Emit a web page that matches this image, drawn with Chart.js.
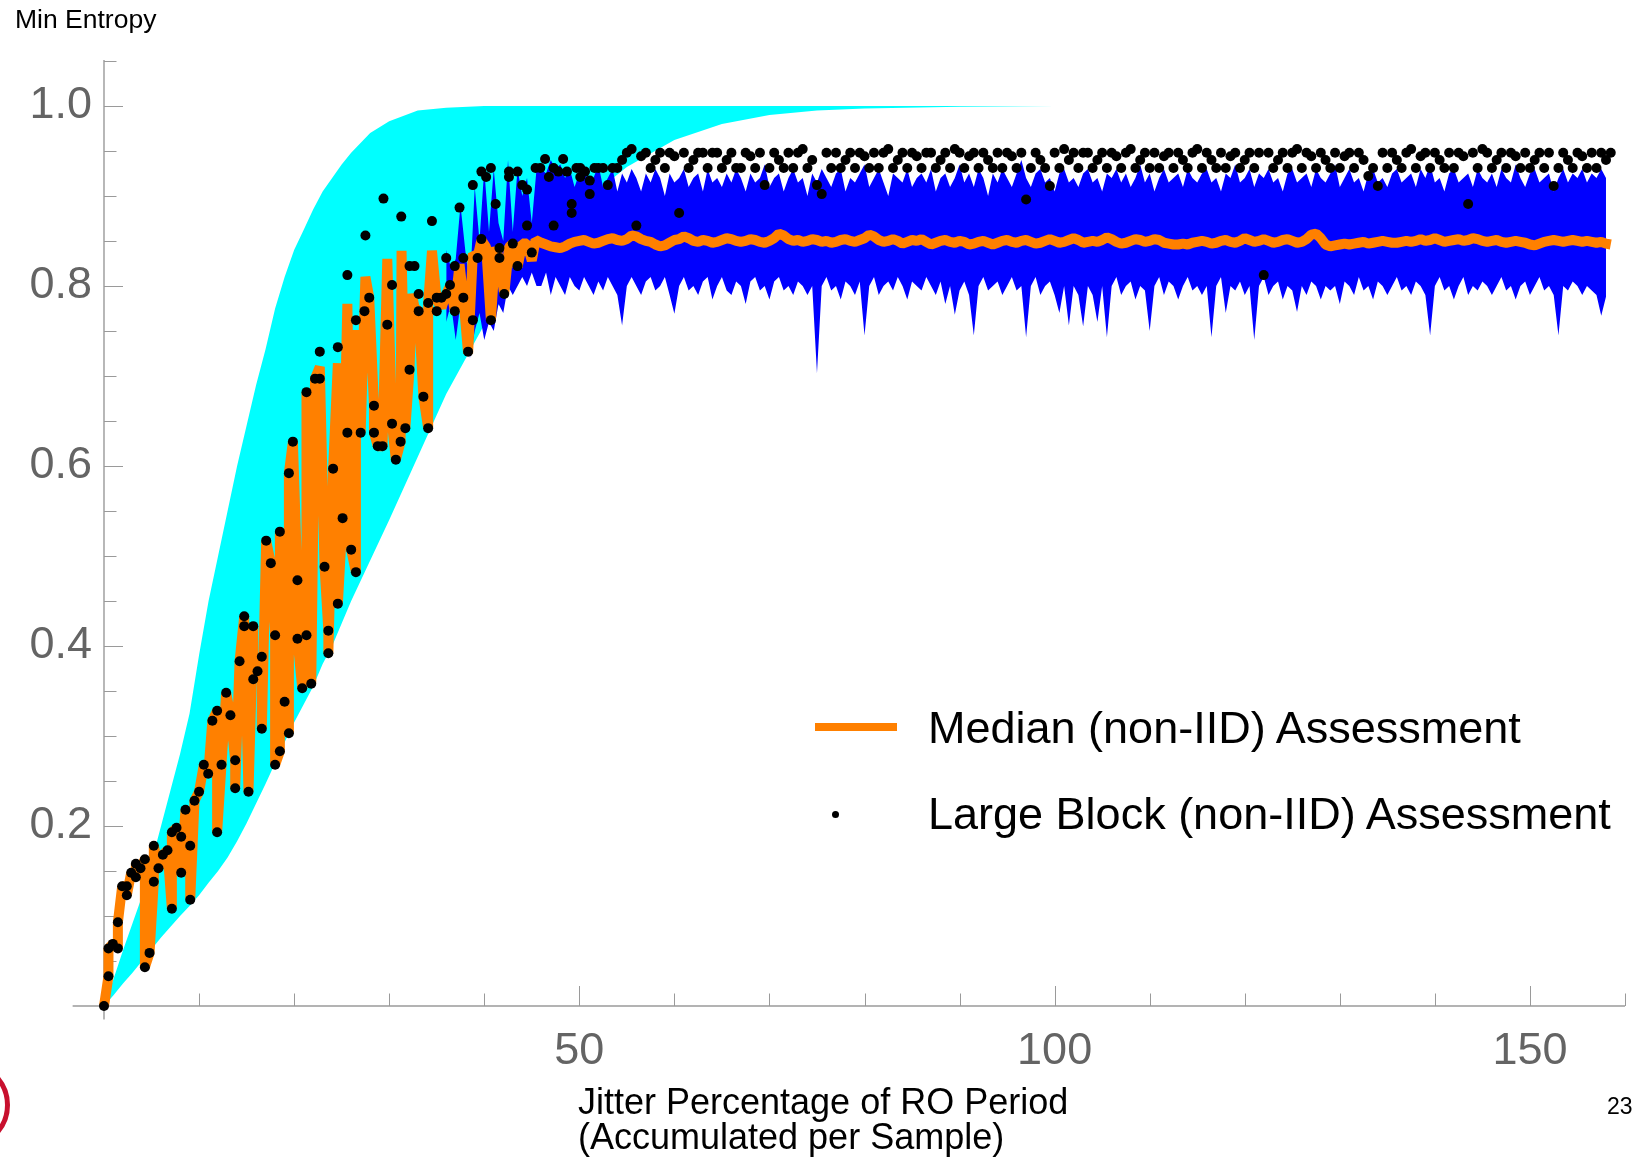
<!DOCTYPE html>
<html>
<head>
<meta charset="utf-8">
<title>Min Entropy vs Jitter</title>
<script src="https://cdn.jsdelivr.net/npm/chart.js@4.4.0/dist/chart.umd.min.js"></script>
<style>
  body { margin: 0; background: #fff; }
  #wrap { position: relative; width: 1639px; height: 1157px; overflow: hidden; font-family: "Liberation Sans", Arial, sans-serif; }
  #wrap canvas { position: absolute; left: 0; top: 0; }
  .txt { position: absolute; line-height: 1; white-space: nowrap; color: #000; }
  #ytitle { left: 15px; top: 6px; font-size: 26.5px; }
  #xtitle1 { left: 578px; top: 1084px; font-size: 36px; }
  #xtitle2 { left: 578px; top: 1119px; font-size: 36px; }
  #page { left: 1607px; top: 1095px; font-size: 23px; }
  #leg1 { left: 928px; top: 705px; font-size: 45px; }
  #leg2 { left: 928px; top: 791px; font-size: 45px; }
  #legLine { position: absolute; left: 815px; top: 723px; width: 82px; height: 8px; background: #ff8000; }
  #legDot { position: absolute; left: 832px; top: 811px; width: 7px; height: 7px; border-radius: 50%; background: #000; }
  #ring { position: absolute; left: -78px; top: 1061px; width: 88px; height: 88px; box-sizing: border-box; border: 5px solid #c8102e; border-radius: 50%; }
</style>
</head>
<body>
<div id="wrap">
  <canvas id="chart" width="1639" height="1157"></canvas>
  <div class="txt" id="ytitle">Min Entropy</div>
  <div class="txt" id="xtitle1">Jitter Percentage of RO Period</div>
  <div class="txt" id="xtitle2">(Accumulated per Sample)</div>
  <div class="txt" id="page">23</div>
  <div id="legLine"></div>
  <div class="txt" id="leg1">Median (non-IID) Assessment</div>
  <div id="legDot"></div>
  <div class="txt" id="leg2">Large Block (non-IID) Assessment</div>
  <div id="ring"></div>
</div>
<script>
// tick labels
const xLabelTicks = [50, 100, 150];
const yLabelTicks = [0.2, 0.4, 0.6, 0.8, 1.0];

// theoretical band (cyan)
const cyanX  = [0,1,2,3,4,5,6,7,8,9,10,11,12,13,14,15,16,17,18,19,20,21,22,23,24,25,26,28,30,33,36,40,45,50,55,60,65,70,75,80,90,100,108];
const cyanHi = [0,0.03,0.062,0.092,0.122,0.16,0.2,0.24,0.28,0.325,0.39,0.45,0.50,0.55,0.60,0.645,0.69,0.73,0.775,0.81,0.84,0.862,0.885,0.905,0.92,0.935,0.948,0.97,0.983,0.995,0.998,1,1,1,1,1,1,1,1,1,1,1,1];
const cyanLo = [0,0.012,0.025,0.037,0.05,0.063,0.076,0.088,0.1,0.111,0.123,0.137,0.15,0.165,0.183,0.203,0.225,0.247,0.27,0.293,0.315,0.335,0.355,0.38,0.40,0.425,0.45,0.495,0.54,0.61,0.68,0.757,0.83,0.89,0.932,0.962,0.98,0.99,0.995,0.997,0.999,1,1];

// median (non-IID) assessment, low jitter part (x, y)
const medEarlyX = [0,0.47,0.47,0.93,1.46,1.46,1.91,2.4,2.4,2.86,
  3.35,3.35,3.84,4.3,4.3,4.79,5.24,5.24,5.73,6.19,
  6.68,7.14,7.14,7.63,8.12,8.12,8.57,9.07,9.07,9.52,
  10,10.5,10.96,11.4,11.9,11.9,12.36,12.85,13.3,13.8,
  13.8,14.26,14.75,14.75,15.2,15.7,15.7,16.15,16.6,16.6,
  17.06,17.55,18,18,18.5,18.5,19,19.45,19.45,19.87,
  20.35,20.35,20.85,21.3,21.3,21.8,22.2,22.7,23.2,23.6,
  23.6,24.1,24.6,24.6,25.1,25.6,26,26.5,26.5,27,
  27.5,27.9,28.4,28.4,28.8,29.3,29.8,30.3,30.7,31.2,
  31.3,31.7,32.14,32.4,32.66,33.1,33.6,34.1,34.1,34.5,
  35,35.5,36,36.4,36.9,37.4,37.8,38.3,38.8,39.3,
  39.7,40.2,40.7,41.2,41.6,42.1,42.6,43,43.5,44,
  44.5,45,45.4];
const medEarlyY = [0,0.033,0.064,0.069,0.064,0.093,0.133,0.133,0.123,0.148,
  0.143,0.158,0.153,0.163,0.043,0.059,0.138,0.178,0.153,0.168,
  0.173,0.108,0.193,0.198,0.188,0.148,0.218,0.178,0.118,0.228,
  0.238,0.268,0.258,0.317,0.328,0.193,0.268,0.348,0.323,0.273,
  0.242,0.383,0.433,0.422,0.238,0.422,0.363,0.372,0.388,0.308,
  0.517,0.492,0.412,0.268,0.283,0.527,0.338,0.303,0.592,0.627,
  0.473,0.408,0.353,0.412,0.682,0.358,0.697,0.71,0.488,0.417,
  0.392,0.597,0.714,0.447,0.542,0.78,0.507,0.482,0.751,0.637,
  0.81,0.787,0.667,0.637,0.622,0.622,0.83,0.647,0.607,0.627,
  0.839,0.642,0.707,0.791,0.776,0.772,0.677,0.642,0.781,0.839,
  0.784,0.776,0.791,0.80,0.773,0.824,0.787,0.725,0.836,0.832,
  0.851,0.843,0.762,0.843,0.828,0.791,0.843,0.847,0.821,0.847,
  0.847,0.828,0.851];

// median, from x = 46 on, every 0.5
const medLateStart = 46;
const medLate = [
  0.848,0.846,0.844,0.843,0.842,0.844,0.847,0.849,0.850,0.851,0.849,0.847,0.848,0.850,0.852,0.853,0.851,0.850,0.852,0.856,
  0.855,0.852,0.850,0.849,0.846,0.844,0.845,0.848,0.851,0.852,0.855,0.853,0.850,0.849,0.851,0.850,0.848,0.849,0.851,0.853,
  0.852,0.850,0.849,0.850,0.852,0.851,0.849,0.848,0.850,0.853,0.858,0.856,0.852,0.850,0.851,0.849,0.850,0.852,0.851,0.849,
  0.850,0.848,0.849,0.851,0.852,0.850,0.849,0.851,0.853,0.857,0.855,0.851,0.849,0.850,0.852,0.850,0.847,0.849,0.851,0.850,
  0.852,0.849,0.846,0.848,0.850,0.851,0.849,0.848,0.850,0.849,0.846,0.847,0.849,0.850,0.848,0.846,0.848,0.850,0.851,0.849,
  0.848,0.850,0.851,0.849,0.847,0.848,0.850,0.852,0.850,0.848,0.849,0.851,0.853,0.851,0.848,0.849,0.850,0.849,0.851,0.854,
  0.852,0.849,0.847,0.848,0.850,0.852,0.851,0.849,0.850,0.852,0.851,0.848,0.847,0.846,0.846,0.847,0.846,0.848,0.849,0.850,
  0.849,0.847,0.848,0.850,0.851,0.849,0.848,0.850,0.853,0.851,0.849,0.850,0.852,0.850,0.848,0.849,0.851,0.852,0.850,0.848,
  0.849,0.852,0.857,0.858,0.853,0.846,0.844,0.845,0.846,0.847,0.846,0.847,0.848,0.849,0.847,0.848,0.849,0.850,0.849,0.848,
  0.848,0.849,0.850,0.849,0.850,0.852,0.850,0.851,0.853,0.851,0.849,0.850,0.851,0.852,0.850,0.851,0.853,0.852,0.850,0.849,
  0.850,0.851,0.849,0.848,0.849,0.850,0.849,0.848,0.846,0.845,0.847,0.849,0.850,0.851,0.850,0.849,0.850,0.851,0.850,0.849,
  0.850,0.849,0.848,0.849,0.847,0.846];

// large block (non-IID) assessment, low jitter part (x, y)
const dotEarlyX = [0,0.47,0.47,0.93,1.46,1.46,1.91,2.4,2.4,2.86,
  3.35,3.35,3.84,4.3,4.3,4.79,5.24,5.24,5.73,6.19,
  6.68,7.14,7.14,7.63,8.12,8.12,8.57,9.07,9.07,9.52,
  10,10.5,10.96,11.4,11.9,11.9,12.36,12.85,13.3,13.8,
  13.8,14.26,14.75,14.75,15.2,15.7,15.7,16.15,16.6,16.6,
  17.06,17.55,18,18,18.5,18.5,19,19.45,19.45,19.87,
  20.35,20.35,20.85,21.3,21.3,21.8,22.2,22.7,22.7,23.2,
  23.6,23.6,24.1,24.6,24.6,25.1,25.6,25.6,26,26.5,
  26.5,27,27.4,27.5,27.9,28.4,28.4,28.8,29.3,29.4,
  29.8,30.3,30.3,30.7,31.2,31.27,31.7,32.14,32.14,32.66,
  33.1,33.1,33.6,34.1,34.1,34.5,35,35,35.5,36,
  36,36.4,36.9,36.9,37.4,37.8,37.8,38.3,38.8,38.8,
  39.3,39.7,39.7,40.2,40.7,40.7,41.2,41.6,41.6,42.1,
  42.6,42.6,43,43.5,43.5,44,44.5,44.5,45,45.4,
  45.9,46.4,46.8,47.3,47.3,47.8,48.3,48.7,49.2,49.2,
  49.7,50.1,50.1,50.6,51.1,51.1,51.6];
const dotEarlyY = [0,0.033,0.064,0.069,0.064,0.093,0.133,0.133,0.123,0.148,
  0.143,0.158,0.153,0.163,0.043,0.059,0.138,0.178,0.153,0.168,
  0.173,0.108,0.193,0.198,0.188,0.148,0.218,0.178,0.118,0.228,
  0.238,0.268,0.258,0.317,0.193,0.328,0.268,0.348,0.323,0.273,
  0.242,0.383,0.433,0.422,0.238,0.422,0.363,0.372,0.388,0.308,
  0.517,0.492,0.412,0.268,0.527,0.283,0.338,0.592,0.303,0.627,
  0.473,0.408,0.353,0.412,0.682,0.358,0.697,0.697,0.727,0.488,
  0.417,0.392,0.597,0.732,0.447,0.542,0.637,0.812,0.507,0.762,
  0.482,0.637,0.772,0.856,0.787,0.667,0.637,0.622,0.622,0.897,
  0.757,0.801,0.647,0.607,0.627,0.877,0.642,0.822,0.707,0.822,
  0.791,0.772,0.677,0.781,0.642,0.872,0.787,0.772,0.787,0.791,
  0.831,0.801,0.822,0.772,0.887,0.831,0.787,0.727,0.912,0.762,
  0.831,0.927,0.852,0.921,0.931,0.762,0.891,0.842,0.831,0.791,
  0.927,0.921,0.847,0.927,0.822,0.912,0.907,0.867,0.837,0.931,
  0.931,0.941,0.921,0.931,0.867,0.927,0.941,0.927,0.891,0.881,
  0.931,0.931,0.921,0.927,0.917,0.902,0.931];

// large block, from x = 52 on, every 0.5
const dotLateStart = 52;
const dotLate = [
  0.931,0.931,0.912,0.931,0.931,0.940,0.948,0.952,0.867,0.944,0.948,0.931,0.940,0.948,0.931,0.948,0.944,0.881,0.948,0.931,
  0.940,0.948,0.948,0.931,0.948,0.948,0.931,0.940,0.948,0.931,0.931,0.948,0.944,0.931,0.948,0.912,0.931,0.948,0.940,0.931,
  0.948,0.931,0.948,0.952,0.931,0.940,0.912,0.902,0.948,0.931,0.948,0.931,0.940,0.948,0.931,0.948,0.944,0.931,0.948,0.931,
  0.948,0.952,0.931,0.940,0.948,0.931,0.948,0.944,0.931,0.948,0.948,0.931,0.940,0.948,0.931,0.952,0.948,0.931,0.944,0.948,
  0.931,0.948,0.940,0.931,0.948,0.931,0.948,0.944,0.931,0.948,0.896,0.931,0.948,0.940,0.931,0.911,0.948,0.931,0.952,0.940,
  0.948,0.931,0.948,0.948,0.931,0.940,0.948,0.931,0.948,0.944,0.931,0.948,0.952,0.931,0.940,0.948,0.931,0.948,0.931,0.944,
  0.948,0.931,0.948,0.940,0.931,0.948,0.952,0.931,0.948,0.940,0.931,0.948,0.931,0.944,0.948,0.931,0.940,0.948,0.931,0.948,
  0.812,0.948,0.931,0.940,0.948,0.931,0.948,0.952,0.931,0.948,0.944,0.931,0.948,0.940,0.931,0.948,0.931,0.944,0.948,0.931,
  0.948,0.940,0.922,0.931,0.911,0.948,0.931,0.948,0.940,0.931,0.948,0.952,0.931,0.944,0.948,0.931,0.948,0.940,0.931,0.948,
  0.931,0.948,0.944,0.891,0.948,0.931,0.952,0.948,0.931,0.940,0.948,0.931,0.948,0.944,0.931,0.948,0.931,0.940,0.948,0.931,
  0.948,0.911,0.931,0.948,0.940,0.931,0.948,0.944,0.931,0.948,0.931,0.948,0.940,0.948];

// spread of the assessments (blue), from x = 36 on, every 0.5
const blueStart = 36;
const blueHi = [
  0.84,0.82,0.83,0.89,0.84,0.80,0.91,0.85,0.93,0.86,0.93,0.87,0.85,0.94,0.86,0.93,0.90,0.92,0.87,0.93,
  0.93,0.925,0.94,0.93,0.935,0.92,0.93,0.91,0.925,0.93,0.915,0.92,0.935,0.91,0.92,0.93,0.905,0.925,0.915,0.93,
  0.92,0.905,0.925,0.915,0.93,0.92,0.90,0.925,0.915,0.92,0.93,0.91,0.92,0.925,0.905,0.93,0.915,0.92,0.91,0.925,
  0.915,0.93,0.92,0.905,0.925,0.915,0.92,0.935,0.91,0.92,0.925,0.905,0.92,0.93,0.915,0.92,0.90,0.925,0.915,0.93,
  0.92,0.91,0.925,0.93,0.905,0.92,0.915,0.925,0.935,0.91,0.92,0.93,0.915,0.90,0.925,0.92,0.915,0.93,0.91,0.92,
  0.925,0.915,0.93,0.905,0.92,0.925,0.91,0.92,0.935,0.915,0.925,0.91,0.93,0.92,0.90,0.925,0.915,0.93,0.92,0.91,
  0.925,0.94,0.92,0.91,0.925,0.93,0.915,0.92,0.905,0.925,0.93,0.915,0.92,0.91,0.925,0.93,0.915,0.92,0.905,0.925,
  0.92,0.93,0.915,0.925,0.91,0.92,0.935,0.915,0.925,0.905,0.92,0.93,0.915,0.92,0.925,0.91,0.93,0.92,0.915,0.925,
  0.93,0.915,0.92,0.905,0.925,0.92,0.935,0.915,0.92,0.93,0.91,0.925,0.92,0.93,0.915,0.92,0.905,0.925,0.93,0.915,
  0.92,0.925,0.91,0.93,0.92,0.915,0.925,0.935,0.91,0.92,0.93,0.915,0.92,0.905,0.925,0.93,0.915,0.92,0.91,0.925,
  0.93,0.915,0.92,0.925,0.91,0.93,0.92,0.935,0.915,0.92,0.905,0.925,0.93,0.915,0.92,0.925,0.91,0.93,0.92,0.915,
  0.925,0.91,0.93,0.92,0.915,0.935,0.92,0.91,0.925,0.93,0.915,0.92,0.925,0.905,0.92,0.93,0.915,0.925,0.92,0.93,
  0.915,0.925,0.92,0.93,0.92];
const blueLo = [
  0.76,0.78,0.74,0.78,0.76,0.72,0.75,0.77,0.74,0.76,0.75,0.78,0.77,0.80,0.79,0.80,0.81,0.80,0.815,0.80,
  0.80,0.815,0.79,0.81,0.80,0.79,0.81,0.80,0.795,0.81,0.80,0.79,0.805,0.795,0.81,0.80,0.79,0.756,0.80,0.81,
  0.80,0.79,0.805,0.81,0.795,0.80,0.81,0.79,0.769,0.80,0.81,0.795,0.80,0.79,0.805,0.81,0.785,0.80,0.81,0.795,
  0.79,0.805,0.80,0.78,0.805,0.81,0.795,0.80,0.785,0.805,0.81,0.795,0.80,0.79,0.805,0.80,0.79,0.80,0.703,0.80,
  0.81,0.795,0.80,0.785,0.805,0.80,0.79,0.805,0.745,0.80,0.81,0.79,0.80,0.805,0.795,0.81,0.80,0.785,0.805,0.80,
  0.795,0.81,0.80,0.79,0.805,0.78,0.80,0.768,0.795,0.805,0.79,0.745,0.80,0.81,0.795,0.80,0.805,0.79,0.80,0.81,
  0.795,0.80,0.743,0.80,0.81,0.79,0.80,0.805,0.79,0.77,0.80,0.756,0.80,0.79,0.755,0.80,0.79,0.76,0.80,0.743,
  0.80,0.81,0.79,0.80,0.805,0.785,0.80,0.795,0.75,0.80,0.81,0.79,0.805,0.80,0.785,0.80,0.81,0.795,0.80,0.79,
  0.80,0.743,0.80,0.81,0.77,0.80,0.795,0.805,0.79,0.80,0.74,0.80,0.81,0.79,0.80,0.805,0.785,0.80,0.795,0.771,
  0.80,0.79,0.805,0.80,0.785,0.80,0.795,0.80,0.78,0.805,0.80,0.79,0.81,0.795,0.80,0.785,0.805,0.80,0.79,0.80,
  0.81,0.795,0.80,0.79,0.805,0.80,0.79,0.745,0.80,0.81,0.795,0.80,0.785,0.80,0.81,0.79,0.80,0.795,0.805,0.80,
  0.79,0.80,0.81,0.795,0.80,0.785,0.80,0.805,0.79,0.80,0.81,0.795,0.80,0.79,0.745,0.80,0.795,0.805,0.80,0.79,
  0.80,0.795,0.79,0.767,0.788];

const pairs = (xs, ys) => xs.map((x, i) => ({x: x, y: ys[i]}));
const onGrid = (start, ys) => ys.map((y, i) => ({x: start + 0.5 * i, y: y}));

const medianPts = pairs(medEarlyX, medEarlyY).concat(onGrid(medLateStart, medLate));
const dotPts = pairs(dotEarlyX, dotEarlyY).concat(onGrid(dotLateStart, dotLate));

// Mathematica style axes: lines through the origin, ticks pointing inwards
const mmaAxes = {
  id: 'mmaAxes',
  beforeDatasetsDraw(chart) {
    const {ctx} = chart;
    const xs = chart.scales.x, ys = chart.scales.y;
    const x0 = xs.getPixelForValue(0), y0 = ys.getPixelForValue(0);
    ctx.save();
    ctx.strokeStyle = '#9a9a9a';
    ctx.lineWidth = 1.4;
    ctx.beginPath();
    ctx.moveTo(xs.getPixelForValue(-3.3), y0);
    ctx.lineTo(xs.getPixelForValue(160), y0);
    ctx.moveTo(x0, ys.getPixelForValue(1.051));
    ctx.lineTo(x0, ys.getPixelForValue(-0.015));
    ctx.stroke();
    ctx.lineWidth = 1;
    ctx.beginPath();
    for (let v = 10; v <= 160; v += 10) {
      const p = Math.round(xs.getPixelForValue(v)) + 0.5;
      const len = v % 50 === 0 ? 20 : 12.5;
      ctx.moveTo(p, y0);
      ctx.lineTo(p, y0 - len);
    }
    for (let k = 1; k <= 21; k++) {
      const p = Math.round(ys.getPixelForValue(k * 0.05)) + 0.5;
      const len = k % 4 === 0 ? 19 : 12.5;
      ctx.moveTo(x0, p);
      ctx.lineTo(x0 + len, p);
    }
    ctx.stroke();
    ctx.restore();
  }
};

const tickFont = {family: 'Liberation Sans', size: 45};

new Chart(document.getElementById('chart'), {
  type: 'line',
  data: {
    datasets: [
      {
        label: 'Large Block (non-IID) Assessment',
        data: dotPts,
        showLine: false,
        pointRadius: 5,
        pointBackgroundColor: '#000',
        pointBorderWidth: 0,
        clip: false,
        order: 0
      },
      {
        label: 'Median (non-IID) Assessment',
        data: medianPts,
        borderColor: '#ff8000',
        borderWidth: 10,
        borderJoinStyle: 'bevel',
        pointRadius: 0,
        clip: false,
        order: 1
      },
      {
        label: 'range hi',
        data: onGrid(blueStart, blueHi),
        borderWidth: 0,
        borderColor: 'rgba(0,0,0,0)',
        backgroundColor: '#0000ff',
        pointRadius: 0,
        fill: 3,
        order: 2
      },
      {
        label: 'range lo',
        data: onGrid(blueStart, blueLo),
        borderWidth: 0,
        borderColor: 'rgba(0,0,0,0)',
        pointRadius: 0,
        order: 3
      },
      {
        label: 'bound hi',
        data: pairs(cyanX, cyanHi),
        borderWidth: 0,
        borderColor: 'rgba(0,0,0,0)',
        backgroundColor: '#00ffff',
        pointRadius: 0,
        fill: 5,
        order: 4
      },
      {
        label: 'bound lo',
        data: pairs(cyanX, cyanLo),
        borderWidth: 0,
        borderColor: 'rgba(0,0,0,0)',
        pointRadius: 0,
        order: 5
      }
    ]
  },
  options: {
    responsive: false,
    animation: false,
    layout: {padding: {left: 0, top: 60, right: 14, bottom: 0}},
    plugins: {legend: {display: false}, tooltip: {enabled: false}},
    scales: {
      x: {
        type: 'linear',
        min: 0,
        max: 160,
        afterBuildTicks: s => { s.ticks = xLabelTicks.map(v => ({value: v})); },
        afterFit: s => { s.height = 151; },
        grid: {display: false, drawTicks: false},
        border: {display: false},
        ticks: {color: '#646464', font: tickFont, padding: 19, maxRotation: 0, autoSkip: false}
      },
      y: {
        type: 'linear',
        min: 0,
        max: 1.051,
        afterBuildTicks: s => { s.ticks = yLabelTicks.map(v => ({value: v})); },
        afterFit: s => { s.width = 104; },
        grid: {display: false, drawTicks: false},
        border: {display: false},
        ticks: {color: '#646464', font: tickFont, padding: 12, autoSkip: false,
                callback: v => Number(v).toFixed(1)}
      }
    }
  },
  plugins: [mmaAxes]
});
</script>
</body>
</html>
